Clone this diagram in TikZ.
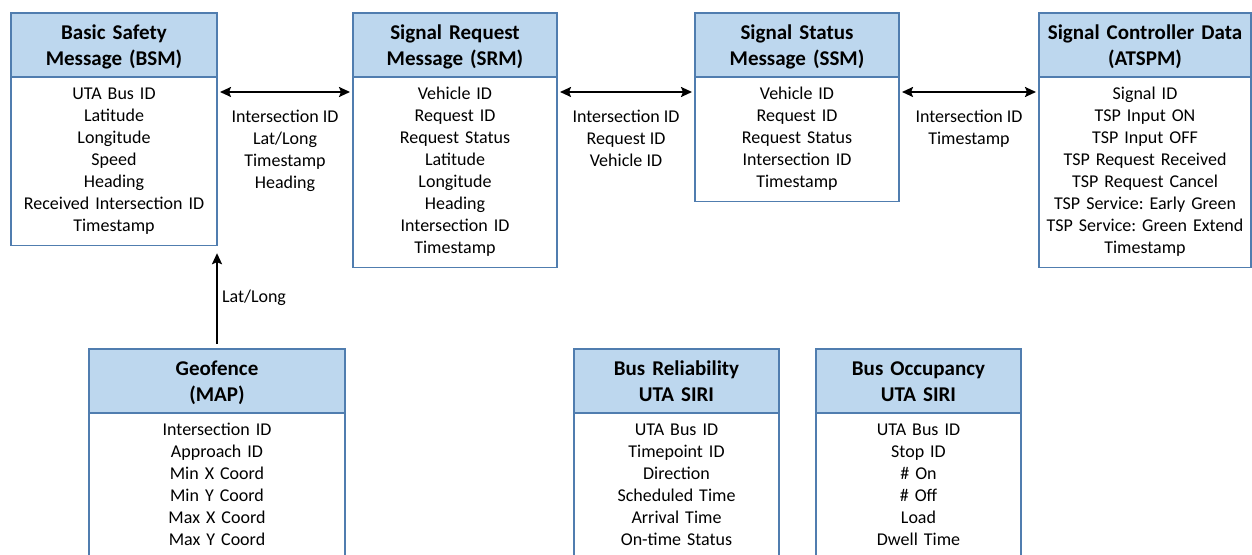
\documentclass[tikz,border=0pt]{standalone}
\usepackage{fontspec}
\setmainfont{Carlito}
\frenchspacing
\usetikzlibrary{positioning}
\usetikzlibrary{arrows.meta}
\definecolor{boxLine}{RGB}{80,125,175}
\definecolor{headFill}{RGB}{189,215,238}

\begin{document}
\begin{tikzpicture}[x=1pt,y=1pt,
  msgHead/.style={draw=boxLine, fill=headFill, line width=1.3pt, anchor=north west,
    text width=#1, align=center, inner sep=0pt, outer sep=0pt, minimum height=64pt,
    font=\bfseries\fontsize{21}{26}\selectfont,
    execute at begin node={\rule{0pt}{22.5pt}}, execute at end node=\strut},
  msgBody/.style={draw=boxLine, line width=1.3pt, text width=#1, align=center,
    inner xsep=0pt, inner ysep=6.6pt, outer sep=0pt,
    font=\fontsize{18}{22}\selectfont,
    execute at begin node={\rule{0pt}{16.4pt}}, execute at end node=\strut},
  link/.style={line width=2pt, >={Stealth[length=11pt,width=10pt,inset=2pt]}},
  linkText/.style={align=center, inner sep=0pt, font=\fontsize{18}{22}\selectfont,
    execute at begin node=\strut},
]
\useasboundingbox (0,0) rectangle (1252,554);

% top row
\node[msgHead=206pt] (bsmH) at (11,541) {Basic Safety\\Message (BSM)};
\node[msgBody=206pt, below=0pt of bsmH] (bsmB) {UTA Bus ID\\Latitude\\Longitude\\Speed\\Heading\\Received Intersection ID\\Timestamp};

\node[msgHead=204pt] (srmH) at (353,541) {Signal Request\\Message (SRM)};
\node[msgBody=204pt, below=0pt of srmH] (srmB) {Vehicle ID\\Request ID\\Request Status\\Latitude\\Longitude\\Heading\\Intersection ID\\Timestamp};

\node[msgHead=204pt] (ssmH) at (695,541) {Signal Status\\Message (SSM)};
\node[msgBody=204pt, below=0pt of ssmH] (ssmB) {Vehicle ID\\Request ID\\Request Status\\Intersection ID\\Timestamp};

\node[msgHead=212pt] (atspmH) at (1039,541) {Signal Controller Data\\(ATSPM)};
\node[msgBody=212pt, below=0pt of atspmH] (atspmB) {Signal ID\\TSP Input ON\\TSP Input OFF\\TSP Request Received\\TSP Request Cancel\\TSP Service: Early Green\\TSP Service: Green Extend\\Timestamp};

% bottom row
\node[msgHead=256pt] (geoH) at (89,205) {Geofence\\(MAP)};
\node[msgBody=256pt, below=0pt of geoH] (geoB) {Intersection ID\\Approach ID\\Min X Coord\\Min Y Coord\\Max X Coord\\Max Y Coord};

\node[msgHead=205pt] (relH) at (574,205) {Bus Reliability\\UTA SIRI};
\node[msgBody=205pt, below=0pt of relH] (relB) {UTA Bus ID\\Timepoint ID\\Direction\\Scheduled Time\\Arrival Time\\On-time Status};

\node[msgHead=205pt] (occH) at (816,205) {Bus Occupancy\\UTA SIRI};
\node[msgBody=205pt, below=0pt of occH] (occB) {UTA Bus ID\\Stop ID\\\# On\\\# Off\\Load\\Dwell Time};

% data links
\draw[link, <->] ([xshift=3pt,yshift=-15pt]bsmB.north east) -- ([xshift=-3pt,yshift=-15pt]srmB.north west)
  node[midway, below=17.5pt, linkText] {Intersection ID\\Lat/Long\\Timestamp\\Heading};
\draw[link, <->] ([xshift=3pt,yshift=-15pt]srmB.north east) -- ([xshift=-3pt,yshift=-15pt]ssmB.north west)
  node[midway, below=17.5pt, linkText] {Intersection ID\\Request ID\\Vehicle ID};
\draw[link, <->] ([xshift=3pt,yshift=-15pt]ssmB.north east) -- ([xshift=-3pt,yshift=-15pt]atspmB.north west)
  node[midway, below=17.5pt, linkText] {Intersection ID\\Timestamp};
\draw[link, ->] ([yshift=5pt]geoH.north) -- ([yshift=-8pt]geoH.north |- bsmB.south)
  node[midway, right=4pt, linkText] {Lat/Long};
\end{tikzpicture}
\end{document}
